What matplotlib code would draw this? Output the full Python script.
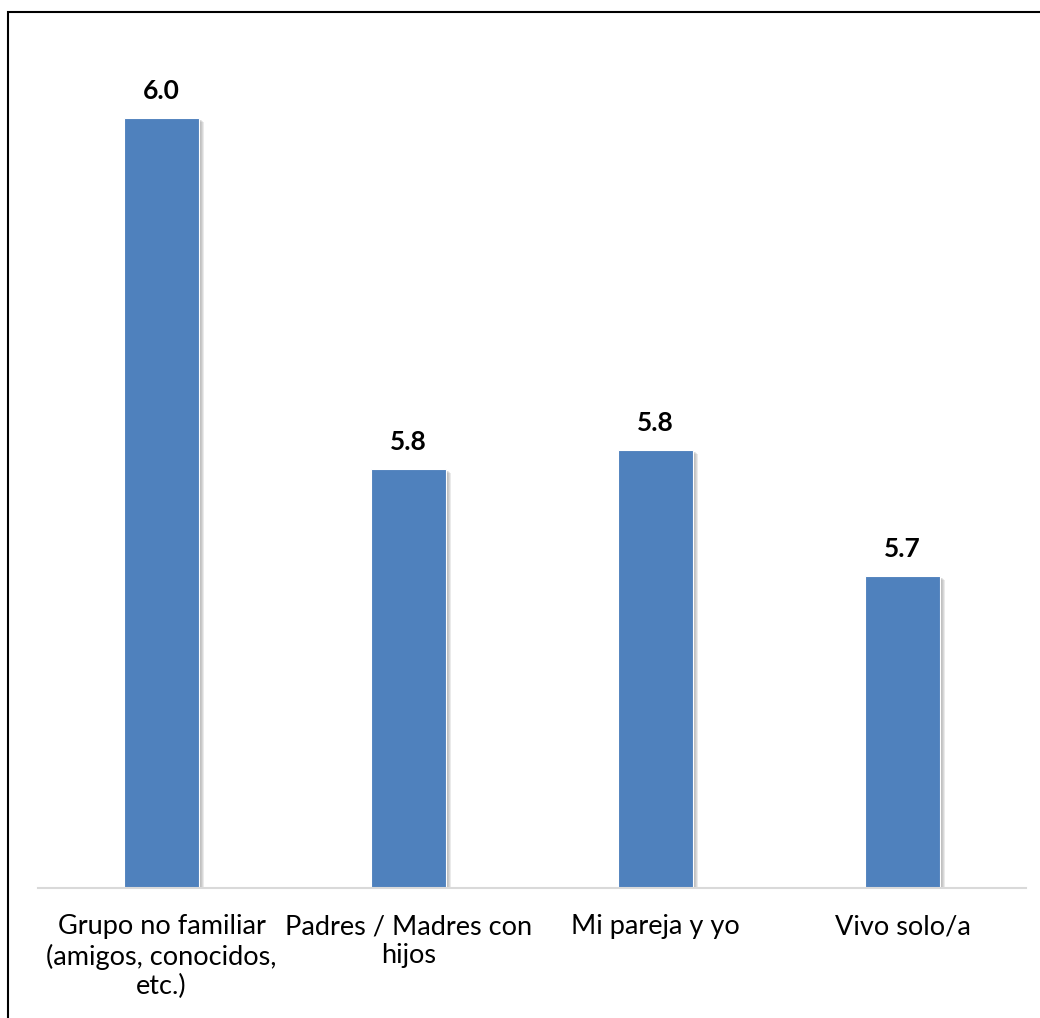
import matplotlib.pyplot as plt
import matplotlib.patheffects as pe
from matplotlib.patches import Rectangle

categories = ["Grupo no familiar\n(amigos, conocidos,\netc.)",
              "Padres / Madres con\nhijos",
              "Mi pareja y yo",
              "Vivo solo/a"]
values = [6.047, 5.752, 5.768, 5.662]

plt.rcParams['font.family'] = ['Lato', 'DejaVu Sans']

fig = plt.figure(figsize=(10.4, 10.18), dpi=100)
ax = fig.add_axes([0.0365, 0.1277, 0.95, 0.818])

# soft shadow to the right of each bar
shadow = [pe.SimplePatchShadow(offset=(o, -o * 0.6), shadow_rgbFace="#808080", alpha=0.16)
          for o in (4.0, 3.2, 2.4, 1.6, 0.8)]

x = range(len(categories))
bars = ax.bar(x, values, width=0.3, color="#4F81BD", edgecolor="white", linewidth=0.8,
              path_effects=shadow + [pe.Normal()])
ax.set_ylim(5.4, 6.1)
ax.set_xlim(-0.5, 3.5)

for b, v in zip(bars, values):
    ax.annotate(f"{v:.1f}", (b.get_x() + b.get_width() / 2, b.get_height()),
                xytext=(0, 11), textcoords="offset points", ha="center", va="bottom",
                fontsize=19, fontweight="bold")

ax.set_xticks(list(x))
ax.set_xticklabels(categories, fontsize=19.5, linespacing=1.2)
ax.tick_params(axis="x", length=0, pad=19)
ax.set_yticks([])
for s in ["top", "right", "left"]:
    ax.spines[s].set_visible(False)
ax.spines["bottom"].set_color("#D9D9D9")
ax.spines["bottom"].set_linewidth(1.5)

# outer border (top and left visible)
fig.patches.append(Rectangle((8 / 1040, -0.05), 1.2, 1 - 12 / 1018 + 0.05, transform=fig.transFigure,
                             fill=False, edgecolor="black", linewidth=1.5))

fig.savefig("out.png", dpi=100)
